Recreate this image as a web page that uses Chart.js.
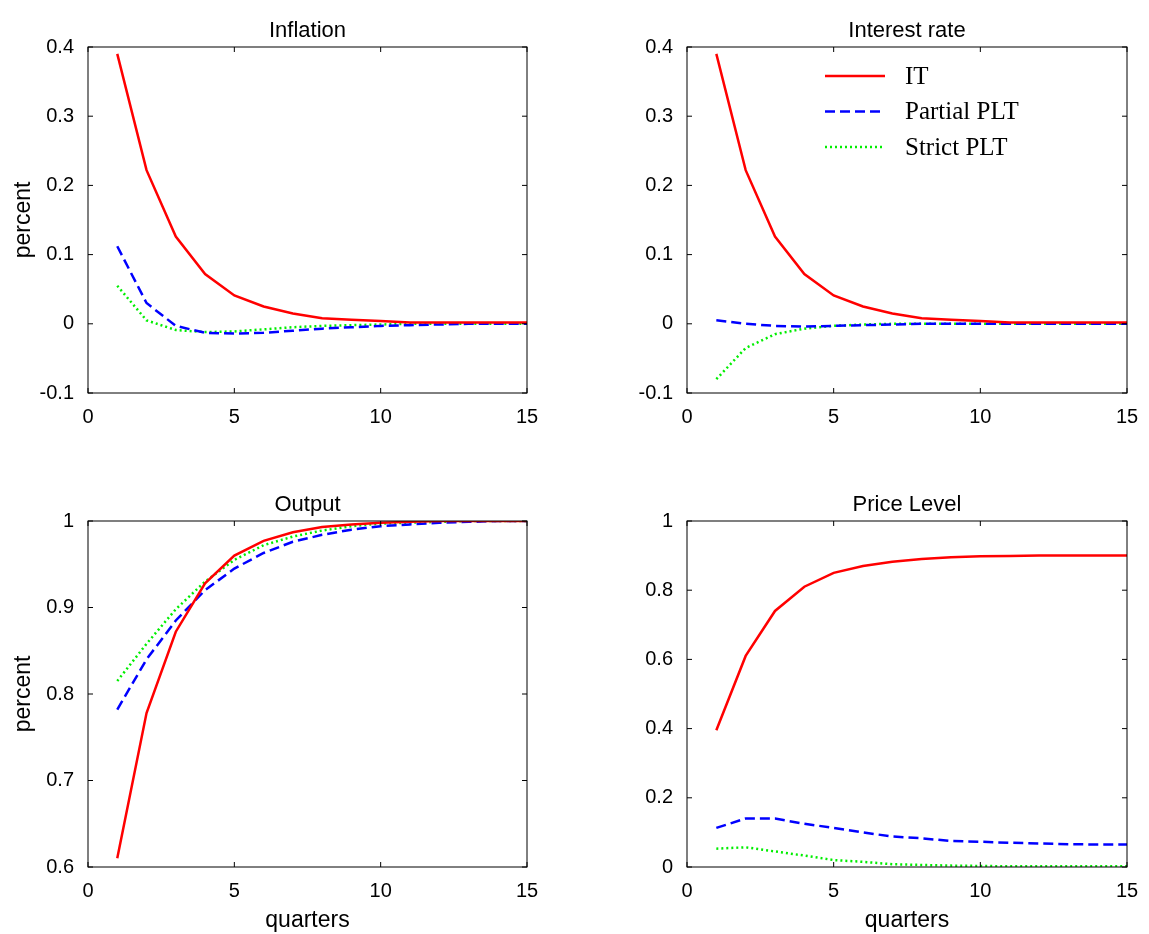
<!DOCTYPE html>
<html><head><meta charset="utf-8">
<script src="https://cdn.jsdelivr.net/npm/chart.js@4"></script>
<style>
body{margin:0;background:#fff;width:1149px;height:934px;overflow:hidden;position:relative}
.box{position:absolute;width:560px;height:467px}
</style></head><body>
<div class="box" style="left:0;top:0"><canvas id="c1"></canvas></div>
<div class="box" style="left:600px;top:0"><canvas id="c2"></canvas></div>
<div class="box" style="left:0;top:467px"><canvas id="c3"></canvas></div>
<div class="box" style="left:600px;top:467px"><canvas id="c4"></canvas></div>
<script>
const quarters = [1,2,3,4,5,6,7,8,9,10,11,12,13,14,15];
const seriesNames = ["IT", "Partial PLT", "Strict PLT"];

const inflIT = [0.39,0.222,0.126,0.072,0.041,0.025,0.015,0.008,0.006,0.004,0.002,0.002,0.002,0.002,0.002];
const inflPartial = [0.112,0.03,-0.003,-0.013,-0.014,-0.013,-0.01,-0.007,-0.005,-0.003,-0.002,-0.001,0,0,0];
const inflStrict = [0.055,0.005,-0.009,-0.012,-0.011,-0.008,-0.005,-0.003,-0.002,-0.001,0,0,0,0,0];

const rateIT = [0.39,0.222,0.126,0.072,0.041,0.025,0.015,0.008,0.006,0.004,0.002,0.002,0.002,0.002,0.002];
const ratePartial = [0.005,0,-0.003,-0.004,-0.003,-0.002,-0.001,0,0,0,0,0,0,0,0];
const rateStrict = [-0.08,-0.035,-0.015,-0.007,-0.003,-0.001,0,0,0,0,0,0,0,0,0];

const outIT = [0.61,0.778,0.872,0.928,0.96,0.977,0.987,0.993,0.996,0.998,0.999,1,1,1,1];
const outPartial = [0.782,0.84,0.885,0.92,0.945,0.963,0.976,0.984,0.99,0.994,0.996,0.998,0.999,1,1];
const outStrict = [0.815,0.858,0.898,0.93,0.955,0.972,0.982,0.989,0.994,0.997,0.998,0.999,1,1,1];

const priceIT = [0.395,0.61,0.74,0.81,0.85,0.87,0.882,0.89,0.895,0.898,0.899,0.9,0.9,0.9,0.9];
const pricePartial = [0.113,0.14,0.14,0.125,0.113,0.1,0.088,0.083,0.075,0.073,0.07,0.068,0.066,0.065,0.065];
const priceStrict = [0.053,0.057,0.045,0.033,0.02,0.015,0.008,0.006,0.004,0.003,0.002,0.002,0.002,0.002,0.002];

const styles = [
  {color:'#ff0000', dash:[]},
  {color:'#0000ff', dash:[10,5]},
  {color:'#00ee00', dash:[2,3]}
];

const frame = {
  id:'frame',
  afterDraw(chart, args, opts){
    const {ctx, chartArea:a, scales} = chart;
    ctx.save();
    ctx.strokeStyle='#000'; ctx.lineWidth=1;
    ctx.strokeRect(a.left, a.top, a.right-a.left, a.bottom-a.top);
    ctx.beginPath();
    scales.x.ticks.forEach(t => {
      const px = scales.x.getPixelForValue(t.value);
      ctx.moveTo(px,a.bottom); ctx.lineTo(px,a.bottom-5);
      ctx.moveTo(px,a.top); ctx.lineTo(px,a.top+5);
    });
    scales.y.ticks.forEach(t => {
      const py = scales.y.getPixelForValue(t.value);
      ctx.moveTo(a.left,py); ctx.lineTo(a.left+5,py);
      ctx.moveTo(a.right,py); ctx.lineTo(a.right-5,py);
    });
    ctx.stroke();
    ctx.fillStyle='#000';
    ctx.font='22px "Liberation Sans", Arial';
    ctx.textAlign='center'; ctx.textBaseline='bottom';
    ctx.fillText(opts.title, (a.left+a.right)/2, a.top-5);
    if (opts.legend) {
      ctx.font='25px "Liberation Serif", "Times New Roman"';
      ctx.textAlign='left'; ctx.textBaseline='middle';
      seriesNames.forEach((n,i) => {
        const y = 29 + i*35.5 + a.top;
        ctx.strokeStyle=styles[i].color; ctx.lineWidth=2.5; ctx.setLineDash(styles[i].dash);
        ctx.beginPath(); ctx.moveTo(a.left+138,y); ctx.lineTo(a.left+198,y); ctx.stroke();
        ctx.fillText(n, a.left+218, y+1);
      });
    }
    ctx.restore();
  }
};

function makeChart(id, title, series, ymin, ymax, ystep, opt) {
  const font = {family:'"Liberation Sans", Arial', size:20};
  new Chart(document.getElementById(id), {
    type:'line',
    data:{datasets: series.map((s,i) => ({
      label: seriesNames[i],
      data: quarters.map((q,j) => ({x:q, y:s[j]})),
      borderColor: styles[i].color, borderDash: styles[i].dash,
      borderWidth: 2.5, pointRadius:0, tension:0, fill:false
    }))},
    options:{
      responsive:true, maintainAspectRatio:false, animation:false,
      layout:{padding:{left:10, right:33, top:opt.top, bottom:0}},
      plugins:{legend:{display:false}, tooltip:{enabled:false}, frame:{title, legend:opt.legend}},
      scales:{
        x:{type:'linear', min:0, max:15, ticks:{stepSize:5, color:'#000', font, padding:4},
           grid:{display:false}, border:{display:false},
           title:{display:opt.xtitle, text:'quarters', color:'#000', font:{family:font.family,size:23}, padding:0},
           afterFit: s => { s.height = opt.xh; }},
        y:{min:ymin, max:ymax, ticks:{stepSize:ystep, color:'#000', font, padding:6,
             callback: v => Math.abs(v) < 1e-9 ? '0' : String(+v.toFixed(2))},
           grid:{display:false}, border:{display:false},
           title:{display:opt.ytitle, text:'percent', color:'#000', font:{family:font.family,size:23}, padding:0},
           afterFit: s => { s.width = opt.yw - 10; }}
      }
    },
    plugins:[frame]
  });
}

makeChart('c1','Inflation',[inflIT,inflPartial,inflStrict],-0.1,0.4,0.1,{top:47,xh:74,yw:88,ytitle:true,xtitle:false,legend:false});
makeChart('c2','Interest rate',[rateIT,ratePartial,rateStrict],-0.1,0.4,0.1,{top:47,xh:74,yw:87,ytitle:false,xtitle:false,legend:true});
makeChart('c3','Output',[outIT,outPartial,outStrict],0.6,1,0.1,{top:54,xh:67,yw:88,ytitle:true,xtitle:true,legend:false});
makeChart('c4','Price Level',[priceIT,pricePartial,priceStrict],0,1,0.2,{top:54,xh:67,yw:87,ytitle:false,xtitle:true,legend:false});
</script>
</body></html>
